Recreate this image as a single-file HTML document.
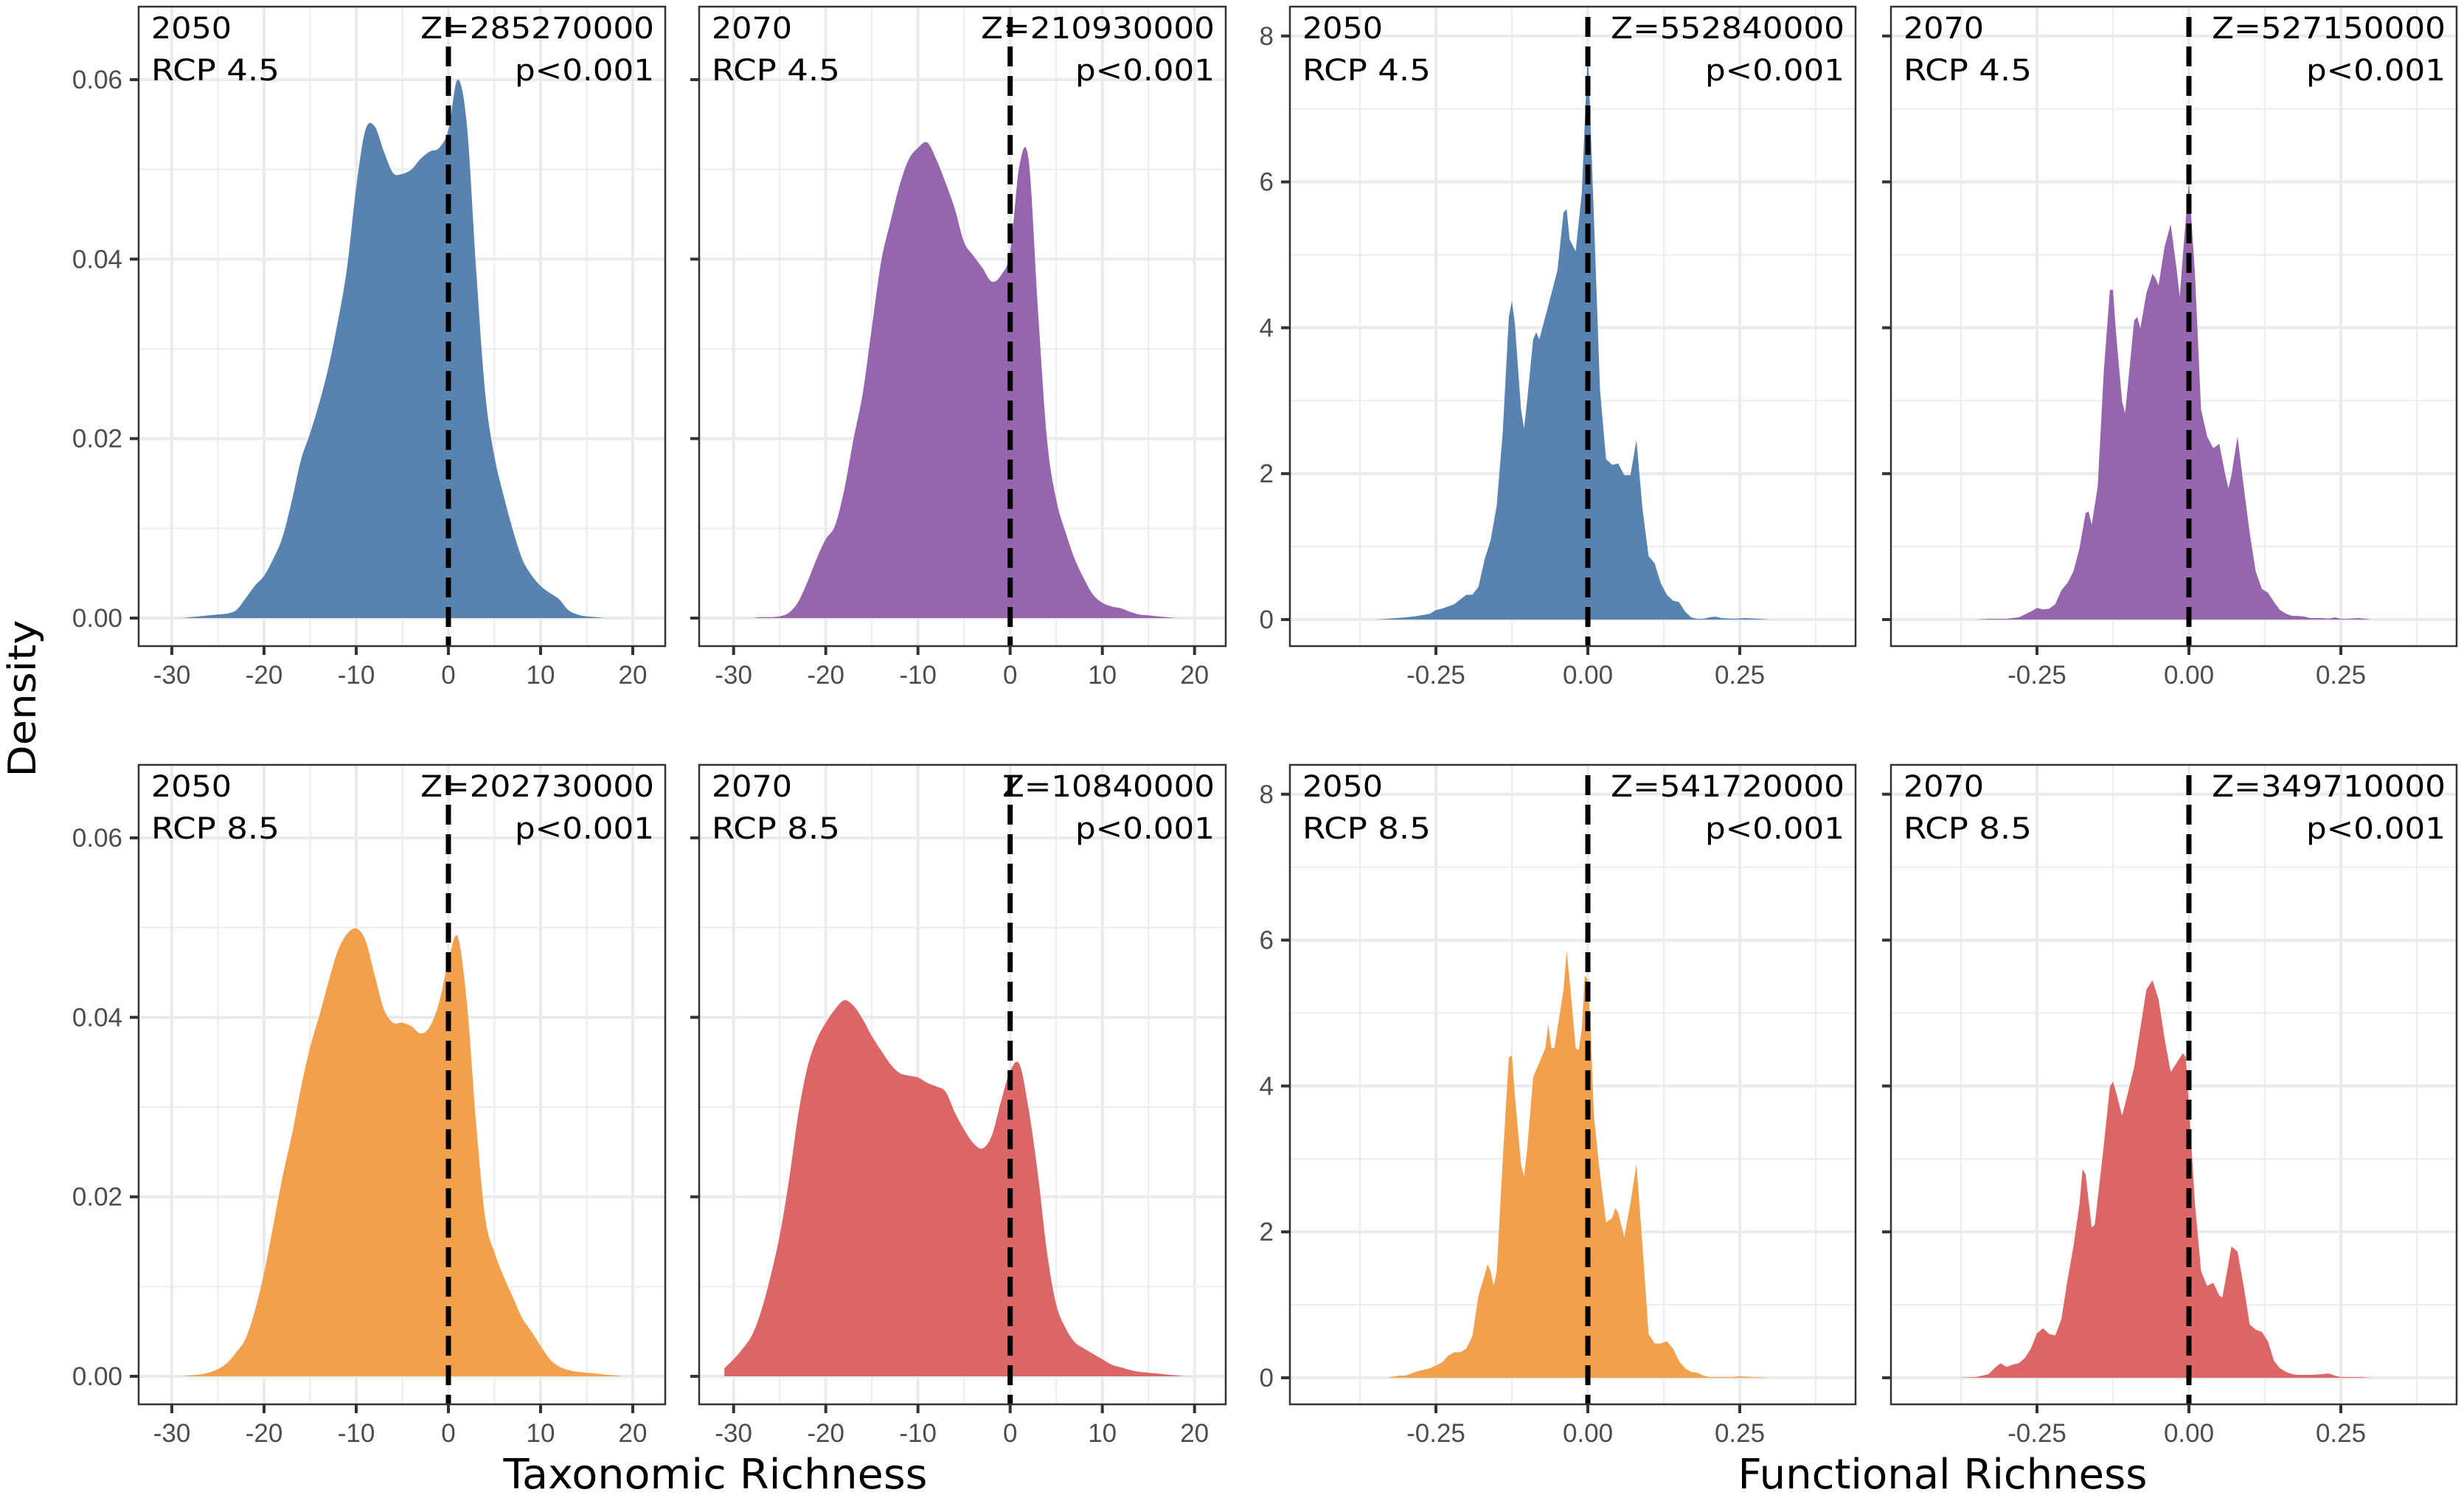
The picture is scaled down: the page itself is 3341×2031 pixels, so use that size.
<!DOCTYPE html>
<html><head><meta charset="utf-8"><style>
html,body{margin:0;padding:0;background:#fff}
svg{display:block}
</style></head><body>
<svg id="chart" width="3341" height="2031" viewBox="0 0 3341 2031" xmlns="http://www.w3.org/2000/svg">
<rect x="0" y="0" width="3341" height="2031" fill="#fff"/>
<text x="0" y="0" transform="translate(48,947) rotate(-90)" text-anchor="middle" font-family="DejaVu Sans, sans-serif" font-size="52" textLength="213" lengthAdjust="spacingAndGlyphs" fill="#000">Density</text>
<text x="970" y="2018" text-anchor="middle" font-family="DejaVu Sans, sans-serif" font-size="56" textLength="575" lengthAdjust="spacingAndGlyphs" fill="#000">Taxonomic Richness</text>
<text x="2634" y="2018" text-anchor="middle" font-family="DejaVu Sans, sans-serif" font-size="56" textLength="555" lengthAdjust="spacingAndGlyphs" fill="#000">Functional Richness</text>
</svg>
<script>
// ---------- data ----------
const taxX = [-30,-29,-28,-27,-26,-25,-24,-23,-22,-21,-20,-19,-18,-17,-16,-15,-14,-13,-12,-11,-10,-9,-8,-7,-6,-5,-4,-3,-2,-1,0,1,2,3,4,5,6,7,8,9,10,11,12,13,14,15,16,17,18,19,20];
const tax2050r45 = [0,0,0.0001,0.0002,0.0003,0.0004,0.0005,0.0009,0.0022,0.0036,0.0047,0.0066,0.009,0.013,0.0176,0.0206,0.024,0.028,0.033,0.039,0.048,0.0544,0.0548,0.052,0.0496,0.0495,0.050,0.0512,0.052,0.0524,0.0544,0.060,0.055,0.039,0.025,0.018,0.0136,0.0098,0.0066,0.0048,0.0036,0.0028,0.0021,0.0009,0.0004,0.0002,0.0001,0,0,0,0];
const tax2070r45 = [0,0,0,0.0001,0.0001,0.0002,0.0006,0.0018,0.004,0.0066,0.0088,0.0103,0.0143,0.0199,0.025,0.0324,0.0397,0.0441,0.0482,0.0511,0.0524,0.053,0.0511,0.0485,0.0456,0.0419,0.0404,0.039,0.0375,0.0382,0.0408,0.0504,0.0511,0.0346,0.0199,0.0132,0.0096,0.0066,0.0044,0.0026,0.0017,0.0013,0.0011,0.0007,0.0004,0.0003,0.0002,0.0001,0,0,0];
const tax2050r85 = [0,0,0.0001,0.0002,0.0004,0.0008,0.0015,0.0027,0.0042,0.0073,0.0115,0.0168,0.0222,0.0268,0.0321,0.0367,0.0402,0.044,0.0474,0.0493,0.0499,0.0486,0.0447,0.0409,0.0394,0.0394,0.039,0.0382,0.039,0.0417,0.0463,0.049,0.0417,0.0283,0.0176,0.0138,0.0111,0.0088,0.0065,0.005,0.0034,0.0019,0.0011,0.0007,0.0005,0.0004,0.0003,0.0002,0.0001,0,0];
const taxX2070r85 = [-31,-30,-29,-28,-27,-26,-25,-24,-23,-22,-21,-20,-19,-18,-17,-16,-15,-14,-13,-12,-11,-10,-9,-8,-7,-6,-5,-4,-3,-2,-1,0,1,2,3,4,5,6,7,8,9,10,11,12,13,14,15,16,17,18,19,20];
const tax2070r85 = [0.0009,0.0019,0.0031,0.0046,0.0073,0.0111,0.0157,0.0218,0.0291,0.0344,0.0375,0.0394,0.0409,0.0419,0.0413,0.0398,0.0379,0.0363,0.0348,0.0338,0.0335,0.0333,0.0327,0.0323,0.0317,0.0294,0.0275,0.026,0.0254,0.0268,0.0306,0.034,0.0348,0.0298,0.0226,0.0138,0.008,0.0054,0.0038,0.0031,0.0025,0.0019,0.0013,0.001,0.0007,0.0005,0.0004,0.0003,0.0002,0.0001,0,0];

const funX2050r45 = [-0.35,-0.33,-0.30,-0.28,-0.26,-0.25,-0.24,-0.22,-0.20,-0.19,-0.18,-0.17,-0.16,-0.15,-0.14,-0.13,-0.125,-0.12,-0.11,-0.105,-0.10,-0.09,-0.085,-0.08,-0.07,-0.06,-0.05,-0.04,-0.035,-0.03,-0.02,-0.01,0,0.01,0.02,0.03,0.04,0.05,0.06,0.07,0.08,0.09,0.10,0.11,0.12,0.13,0.14,0.15,0.16,0.17,0.18,0.19,0.20,0.21,0.22,0.24,0.26,0.28,0.30];
const fun2050r45 = [0,0.01,0.03,0.05,0.08,0.13,0.15,0.21,0.34,0.34,0.45,0.82,1.09,1.56,2.57,4.15,4.37,4.05,2.88,2.62,2.99,3.84,3.94,3.84,4.15,4.47,4.79,5.58,5.63,5.21,5.05,5.85,7.8,5.53,3.15,2.2,2.12,2.14,1.98,1.98,2.46,1.51,0.87,0.77,0.5,0.34,0.26,0.24,0.11,0.03,0.01,0.01,0.03,0.04,0.02,0.01,0.02,0.01,0];
const funX2070r45 = [-0.35,-0.33,-0.30,-0.28,-0.26,-0.25,-0.24,-0.23,-0.22,-0.21,-0.20,-0.19,-0.18,-0.17,-0.165,-0.16,-0.15,-0.14,-0.13,-0.125,-0.12,-0.11,-0.105,-0.10,-0.09,-0.085,-0.08,-0.07,-0.06,-0.055,-0.05,-0.04,-0.03,-0.02,-0.015,-0.01,0,0.01,0.02,0.03,0.04,0.05,0.06,0.065,0.07,0.08,0.09,0.10,0.11,0.12,0.13,0.14,0.15,0.16,0.17,0.18,0.19,0.20,0.22,0.23,0.24,0.25,0.26,0.28,0.30];
const fun2070r45 = [0,0.01,0.01,0.03,0.11,0.16,0.14,0.15,0.21,0.4,0.5,0.66,0.98,1.46,1.48,1.3,1.83,3.41,4.52,4.52,3.94,2.99,2.83,3.25,4.1,4.15,3.99,4.47,4.74,4.68,4.58,5.11,5.42,4.79,4.42,5.0,6.0,4.74,2.88,2.51,2.35,2.41,1.98,1.8,1.98,2.51,1.83,1.19,0.66,0.42,0.37,0.24,0.13,0.08,0.05,0.05,0.04,0.02,0.02,0.01,0.03,0.01,0.01,0.02,0];
const funX2050r85 = [-0.33,-0.31,-0.30,-0.28,-0.26,-0.25,-0.24,-0.23,-0.22,-0.21,-0.20,-0.19,-0.18,-0.17,-0.165,-0.16,-0.155,-0.15,-0.14,-0.13,-0.125,-0.12,-0.11,-0.105,-0.10,-0.09,-0.08,-0.07,-0.065,-0.06,-0.055,-0.05,-0.04,-0.035,-0.03,-0.02,-0.015,-0.01,-0.005,0,0.005,0.01,0.02,0.03,0.04,0.045,0.05,0.06,0.07,0.08,0.09,0.10,0.11,0.12,0.13,0.14,0.15,0.16,0.17,0.18,0.19,0.20,0.24,0.25,0.27,0.30];
const fun2050r85 = [0,0.03,0.03,0.09,0.13,0.17,0.21,0.3,0.35,0.35,0.4,0.57,1.13,1.4,1.56,1.46,1.26,1.46,2.99,4.39,4.42,3.86,2.93,2.76,3.12,4.12,4.32,4.52,4.85,4.52,4.52,4.79,5.32,5.85,5.45,4.52,4.49,4.79,5.52,5.45,4.7,3.59,2.79,2.13,2.19,2.33,2.26,1.93,2.39,2.93,1.8,0.6,0.47,0.47,0.5,0.4,0.23,0.13,0.08,0.07,0.03,0.01,0.01,0.02,0.01,0];
const funX2070r85 = [-0.38,-0.35,-0.33,-0.32,-0.31,-0.30,-0.29,-0.28,-0.27,-0.26,-0.25,-0.24,-0.23,-0.22,-0.21,-0.20,-0.19,-0.18,-0.175,-0.17,-0.16,-0.155,-0.15,-0.14,-0.13,-0.125,-0.12,-0.11,-0.10,-0.09,-0.08,-0.07,-0.06,-0.05,-0.04,-0.03,-0.02,-0.01,-0.005,0,0.01,0.02,0.03,0.04,0.05,0.055,0.06,0.07,0.08,0.09,0.10,0.11,0.12,0.13,0.14,0.15,0.16,0.17,0.18,0.20,0.22,0.23,0.24,0.25,0.28,0.30];
const fun2070r85 = [0,0.01,0.05,0.13,0.2,0.15,0.18,0.2,0.27,0.4,0.61,0.68,0.6,0.58,0.8,1.33,1.8,2.39,2.86,2.79,2.06,2.1,2.46,3.19,3.99,4.06,3.92,3.59,3.92,4.26,4.79,5.32,5.45,5.19,4.65,4.19,4.32,4.45,4.39,3.72,2.39,1.46,1.26,1.3,1.13,1.1,1.33,1.8,1.73,1.26,0.73,0.66,0.63,0.5,0.23,0.13,0.08,0.05,0.04,0.04,0.05,0.06,0.03,0.01,0.01,0];

const taxXTicks = [-30,-20,-10,0,10,20];
const taxYTicks = [0,0.02,0.04,0.06];
const taxYTickLabels = ["0.00","0.02","0.04","0.06"];
const funXTicks = [-0.25,0,0.25];
const funXTickLabels = ["-0.25","0.00","0.25"];
const funYTicks = [0,2,4,6,8];

const panelYear = ["2050","2070","2050","2070","2050","2070","2050","2070"];
const panelRcp = ["RCP 4.5","RCP 4.5","RCP 4.5","RCP 4.5","RCP 8.5","RCP 8.5","RCP 8.5","RCP 8.5"];
const panelZ = ["Z=285270000","Z=210930000","Z=552840000","Z=527150000","Z=202730000","Z=10840000","Z=541720000","Z=349710000"];
const panelP = ["p<0.001","p<0.001","p<0.001","p<0.001","p<0.001","p<0.001","p<0.001","p<0.001"];

// ---------- layout ----------
const NS = "http://www.w3.org/2000/svg";
const svg = document.getElementById('chart');
const colLeft = [188, 948, 1749, 2564];
const colWidth = [714, 714, 767, 767];
const rowTop = [9, 1037];
const panelH = 867;
const colors = {blue:"#5882b0", purple:"#9565ad", orange:"#f3a04d", red:"#dc6666"};

function mk(tag, attrs, parent){
  const e = document.createElementNS(NS, tag);
  for (const k in attrs) e.setAttribute(k, attrs[k]);
  (parent||svg).appendChild(e);
  return e;
}

function taxScales(col,row){
  const left = colLeft[col], top = rowTop[row];
  const x0 = col===0 ? left+45 : 994.7;
  return {
    x: v => x0 + (v+30)*12.5,
    y: d => top + 829 - d*12167,
    dmin:-33.6, dmax:23.6, minorX:[-35,-25,-15,-5,5,15], majorX:[-30,-20,-10,0,10,20],
    majorY:[0,0.02,0.04,0.06], minorY:[0.01,0.03,0.05,0.07]
  };
}
function funScales(col,row){
  const left = colLeft[col], top = rowTop[row];
  return {
    x: v => left + 404 + v*824,
    y: d => top + 831 - d*98.9,
    majorX:[-0.5,-0.25,0,0.25,0.5], minorX:[-0.375,-0.125,0.125,0.375],
    majorY:[0,2,4,6,8], minorY:[1,3,5,7]
  };
}

function smoothPath(pts){
  let d = "M"+pts[0][0]+","+pts[0][1];
  for (let i=0;i<pts.length-1;i++){
    const p0 = pts[i-1]||pts[i], p1 = pts[i], p2 = pts[i+1], p3 = pts[i+2]||p2;
    const t = 1/6;
    const c1 = [p1[0]+(p2[0]-p0[0])*t, p1[1]+(p2[1]-p0[1])*t];
    const c2 = [p2[0]-(p3[0]-p1[0])*t, p2[1]-(p3[1]-p1[1])*t];
    d += " C"+c1[0].toFixed(1)+","+c1[1].toFixed(1)+" "+c2[0].toFixed(1)+","+c2[1].toFixed(1)+" "+p2[0].toFixed(1)+","+p2[1].toFixed(1);
  }
  return d;
}

function drawPanel(idx, col, row, kind, xs, ys, color){
  const left = colLeft[col], top = rowTop[row], w = colWidth[col];
  const s = kind==='tax' ? taxScales(col,row) : funScales(col,row);
  const g = mk('g', {});
  
  
  const cp = mk('clipPath', {id:'clip'+idx}, g);
  mk('rect', {x:left, y:top, width:w, height:panelH}, cp);
  const inner = mk('g', {'clip-path':'url(#clip'+idx+')'}, g);
  // grid
  s.minorX.forEach(v=>{ const gl = mk('line',{x1:s.x(v),x2:s.x(v),y1:top,y2:top+panelH,stroke:'#ededed','stroke-width':2},inner);
      });
  s.minorY.forEach(v=>{ const gl = mk('line',{x1:left,x2:left+w,y1:s.y(v),y2:s.y(v),stroke:'#ededed','stroke-width':2},inner);
      });
  s.majorX.forEach(v=>{ const gl = mk('line',{x1:s.x(v),x2:s.x(v),y1:top,y2:top+panelH,stroke:'#ebebeb','stroke-width':4},inner);
      });
  s.majorY.forEach(v=>{ const gl = mk('line',{x1:left,x2:left+w,y1:s.y(v),y2:s.y(v),stroke:'#ebebeb','stroke-width':4},inner);
      });
  // area
  const pts = xs.map((v,i)=>[s.x(v), s.y(ys[i])]);
  let d;
  if (kind==='tax') d = smoothPath(pts);
  else d = "M"+pts.map(p=>p[0].toFixed(1)+","+p[1].toFixed(1)).join(" L");
  d += " L"+s.x(xs[xs.length-1]).toFixed(1)+","+s.y(0).toFixed(1)+" L"+s.x(xs[0]).toFixed(1)+","+s.y(0).toFixed(1)+" Z";
  const area = mk('path', {d:d, fill:color, stroke:'none'}, inner);
  
  
  // zero line
  const zl = mk('line', {x1:s.x(0), x2:s.x(0), y1:top+14, y2:top+panelH, stroke:'#000', 'stroke-width':7, 'stroke-dasharray':'27 13'}, inner);
  
  
  // border
  const b = mk('rect', {x:left, y:top, width:w, height:panelH, fill:'none', stroke:'#333', 'stroke-width':2.5}, g);
  
  
  // annotations
  const tf = 'DejaVu Sans, sans-serif';
  const t1 = mk('text', {x:left+17, y:top+43, 'font-family':tf, 'font-size':40, fill:'#000', textLength:109, lengthAdjust:'spacingAndGlyphs'}, g);
  t1.textContent = panelYear[idx];
  
  
  const t2 = mk('text', {x:left+17, y:top+100, 'font-family':tf, 'font-size':40, fill:'#000', textLength:174, lengthAdjust:'spacingAndGlyphs'}, g);
  t2.textContent = panelRcp[idx];
  
  
  const zw = panelZ[idx].length*28.8;
  const t3 = mk('text', {x:left+w-15-zw, y:top+43, 'font-family':tf, 'font-size':40, fill:'#000', textLength:zw, lengthAdjust:'spacingAndGlyphs'}, g);
  t3.textContent = panelZ[idx];
  
  
  const t4 = mk('text', {x:left+w-15-189, y:top+100, 'font-family':tf, 'font-size':40, fill:'#000', textLength:189, lengthAdjust:'spacingAndGlyphs'}, g);
  t4.textContent = panelP[idx];
  
  
  // x axis ticks
  const xt = kind==='tax' ? taxXTicks : funXTicks;
  xt.forEach((v,i)=>{
    const tk = mk('line',{x1:s.x(v),x2:s.x(v),y1:top+panelH,y2:top+panelH+12,stroke:'#333','stroke-width':4},g);
     
    const lb = mk('text',{x:s.x(v), y:top+panelH+51, 'text-anchor':'middle','font-family':'Liberation Sans, sans-serif','font-size':35, fill:'#4d4d4d'},g);
    lb.textContent = kind==='tax' ? String(v) : funXTickLabels[i];
     
  });
  // y axis ticks
  const yt = kind==='tax' ? taxYTicks : funYTicks;
  yt.forEach((v,i)=>{
    const tk = mk('line',{x1:left-12,x2:left,y1:s.y(v),y2:s.y(v),stroke:'#333','stroke-width':4},g);
     
    if (col===0 || col===2){
      const lb = mk('text',{x:left-22, y:s.y(v)+12, 'text-anchor':'end','font-family':'Liberation Sans, sans-serif','font-size':35, fill:'#4d4d4d'},g);
      lb.textContent = kind==='tax' ? taxYTickLabels[i] : String(v);
       
    }
  });
}

drawPanel(0,0,0,'tax',taxX,tax2050r45,colors.blue);
drawPanel(1,1,0,'tax',taxX,tax2070r45,colors.purple);
drawPanel(2,2,0,'fun',funX2050r45,fun2050r45,colors.blue);
drawPanel(3,3,0,'fun',funX2070r45,fun2070r45,colors.purple);
drawPanel(4,0,1,'tax',taxX,tax2050r85,colors.orange);
drawPanel(5,1,1,'tax',taxX2070r85,tax2070r85,colors.red);
drawPanel(6,2,1,'fun',funX2050r85,fun2050r85,colors.orange);
drawPanel(7,3,1,'fun',funX2070r85,fun2070r85,colors.red);
</script>
</body></html>
